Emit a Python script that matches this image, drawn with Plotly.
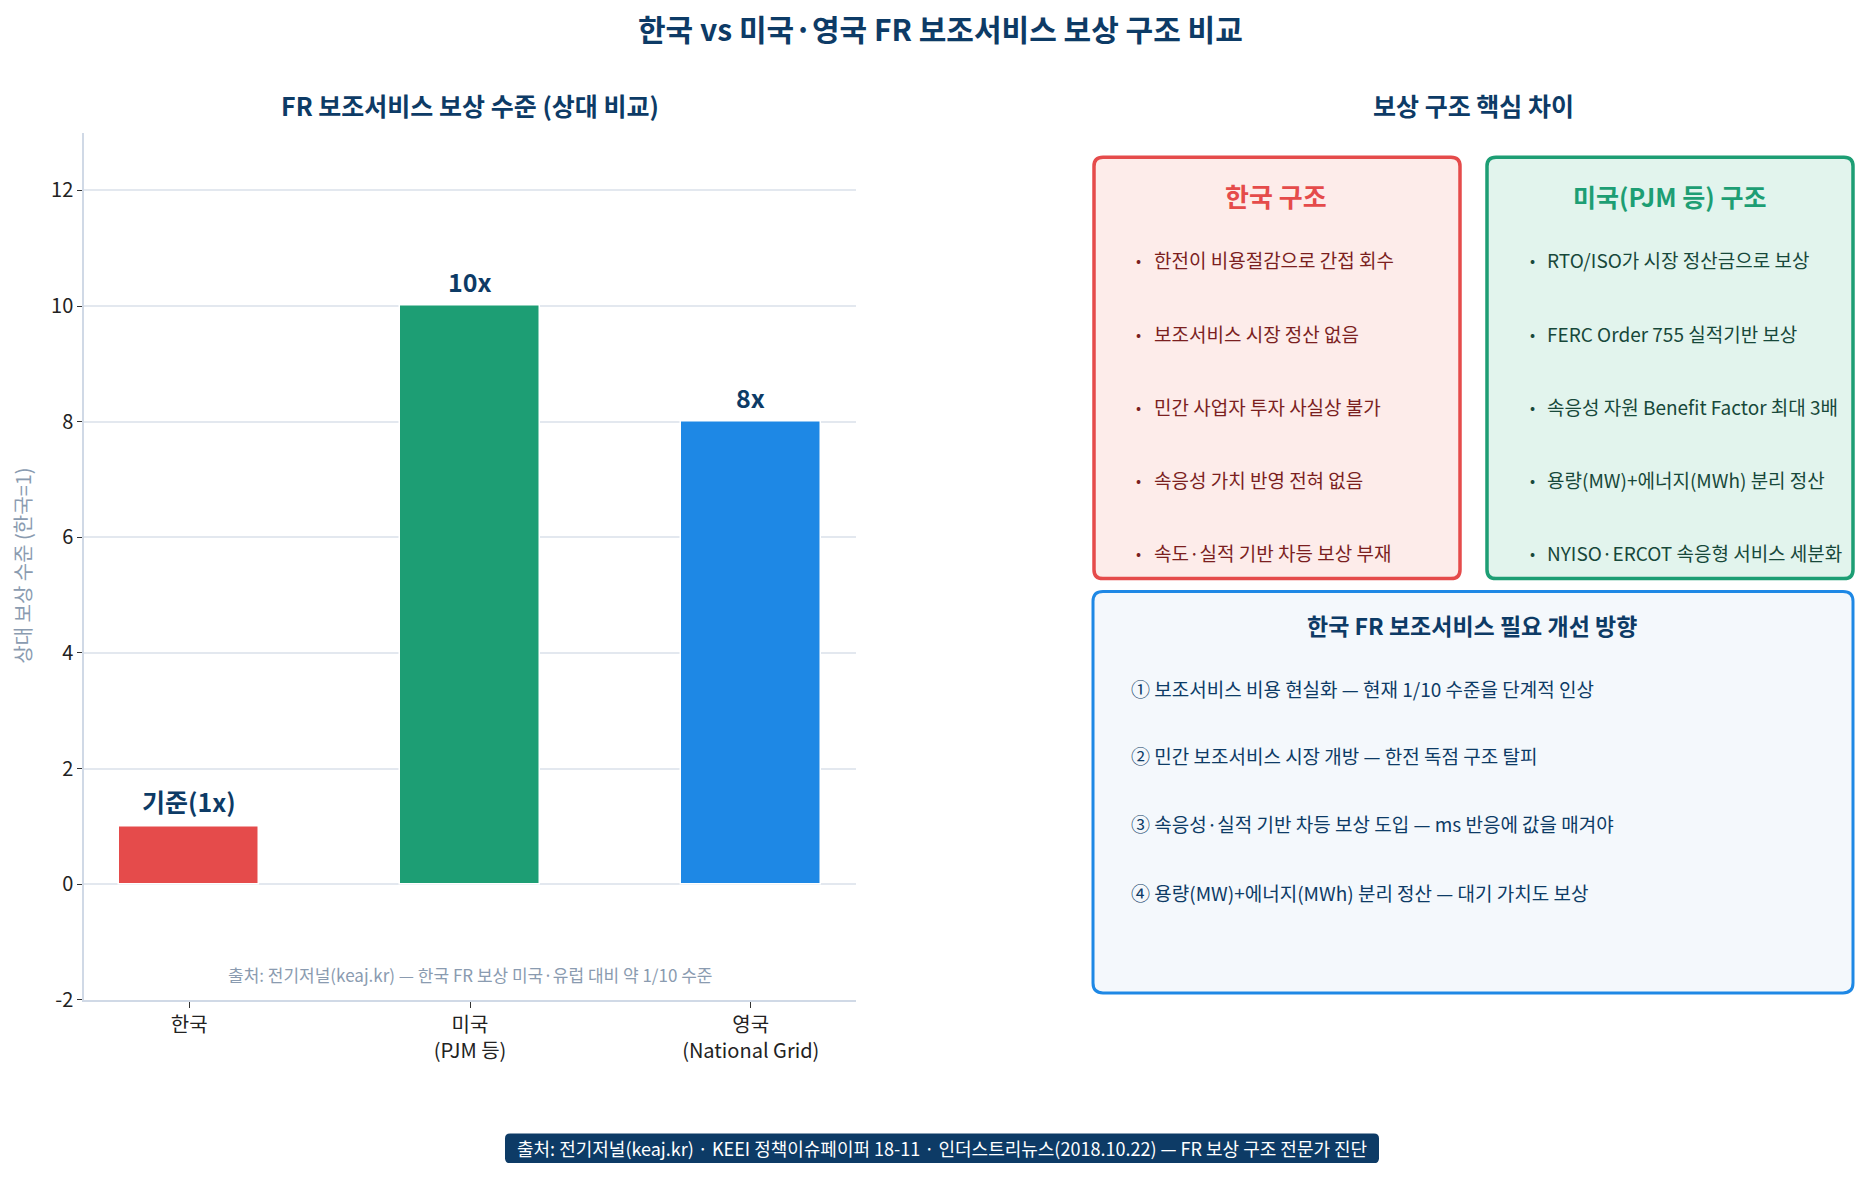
import plotly.graph_objects as go

W, H = 1873, 1185
FONT = "Noto Sans CJK KR"
NAVY = "#0d3b66"

# data
countries = ["한국", "미국<br>(PJM 등)", "영국<br>(National Grid)"]
ratio = [1, 10, 8]
ratio_labels = ["기준(1x)", "10x", "8x"]
bar_colors = ["#e54b4b", "#1d9e74", "#1e88e5"]
y_ticks = [-2, 0, 2, 4, 6, 8, 10, 12]

kr_points = ["한전이 비용절감으로 간접 회수", "보조서비스 시장 정산 없음", "민간 사업자 투자 사실상 불가",
             "속응성 가치 반영 전혀 없음", "속도·실적 기반 차등 보상 부재"]
us_points = ["RTO/ISO가 시장 정산금으로 보상", "FERC Order 755 실적기반 보상", "속응성 자원 Benefit Factor 최대 3배",
             "용량(MW)+에너지(MWh) 분리 정산", "NYISO·ERCOT 속응형 서비스 세분화"]
actions = ["① 보조서비스 비용 현실화 — 현재 1/10 수준을 단계적 인상",
           "② 민간 보조서비스 시장 개방 — 한전 독점 구조 탈피",
           "③ 속응성·실적 기반 차등 보상 도입 — ms 반응에 값을 매겨야",
           "④ 용량(MW)+에너지(MWh) 분리 정산 — 대기 가치도 보상"]


def px_x(x):
    return x / W


def px_y(y):
    return 1 - y / H


def rounded_box(x0, y0, x1, y1, r=9):
    # pixel coords -> paper path with rounded corners
    X = lambda v: f"{px_x(v):.5f}"
    Y = lambda v: f"{px_y(v):.5f}"
    return (f"M{X(x0 + r)},{Y(y0)} L{X(x1 - r)},{Y(y0)} Q{X(x1)},{Y(y0)} {X(x1)},{Y(y0 + r)} "
            f"L{X(x1)},{Y(y1 - r)} Q{X(x1)},{Y(y1)} {X(x1 - r)},{Y(y1)} "
            f"L{X(x0 + r)},{Y(y1)} Q{X(x0)},{Y(y1)} {X(x0)},{Y(y1 - r)} "
            f"L{X(x0)},{Y(y0 + r)} Q{X(x0)},{Y(y0)} {X(x0 + r)},{Y(y0)} Z")


fig = go.Figure()
fig.add_trace(go.Bar(
    x=list(range(len(countries))), y=ratio, width=0.5,
    marker=dict(color=bar_colors, line=dict(color="white", width=1.5)),
    hoverinfo="skip",
))

ann = []
for i, (v, lab) in enumerate(zip(ratio, ratio_labels)):
    ann.append(dict(x=i, y=v, xref="x", yref="y", text=f"<b>{lab}</b>",
                    yanchor="bottom", yshift=5, font=dict(size=25, color=NAVY)))

ann += [
    dict(x=px_x(940), y=px_y(28), text="<b>한국 vs 미국·영국 FR 보조서비스 보상 구조 비교</b>",
         font=dict(size=30, color=NAVY)),
    dict(x=px_x(470), y=px_y(106), text="<b>FR 보조서비스 보상 수준 (상대 비교)</b>",
         font=dict(size=25, color=NAVY)),
    dict(x=px_x(1473), y=px_y(106), text="<b>보상 구조 핵심 차이</b>",
         font=dict(size=25, color=NAVY)),
    dict(x=px_x(470), y=px_y(985), text="출처: 전기저널(keaj.kr) — 한국 FR 보상 미국·유럽 대비 약 1/10 수준",
         font=dict(size=17, color="#8a9bb0")),
    dict(x=px_x(23), y=px_y(572), text="상대 보상 수준 (한국=1)", textangle=-90,
         font=dict(size=20, color="#8a9bb0")),
    dict(x=px_x(942), y=px_y(1161),
         text="출처: 전기저널(keaj.kr) · KEEI 정책이슈페이퍼 18-11 · 인더스트리뉴스(2018.10.22) — FR 보상 구조 전문가 진단",
         font=dict(size=18, color="white")),
    dict(x=px_x(1276), y=px_y(198), text="<b>한국 구조</b>", font=dict(size=26, color="#e54b4b")),
    dict(x=px_x(1669), y=px_y(198), text="<b>미국(PJM 등) 구조</b>", font=dict(size=25, color="#1d9e74")),
    dict(x=px_x(1472), y=px_y(632), text="<b>한국 FR 보조서비스 필요 개선 방향</b>",
         font=dict(size=23, color=NAVY)),
]

bullet_y = [262, 337, 411, 485, 559]
for yy, t in zip(bullet_y, kr_points):
    ann.append(dict(x=px_x(1138), y=px_y(yy), text="•", font=dict(size=15, color="#7b1f1f")))
    ann.append(dict(x=px_x(1152), y=px_y(yy), xanchor="left", text=t,
                    font=dict(size=19, color="#7b1f1f")))
for yy, t in zip(bullet_y, us_points):
    ann.append(dict(x=px_x(1532), y=px_y(yy), text="•", font=dict(size=15, color="#17483a")))
    ann.append(dict(x=px_x(1545), y=px_y(yy), xanchor="left", text=t,
                    font=dict(size=19, color="#17483a")))
for yy, t in zip([696, 764, 833, 902], actions):
    ann.append(dict(x=px_x(1129), y=px_y(yy), xanchor="left", text=t,
                    font=dict(size=19, color=NAVY)))

for a in ann:
    a.setdefault("xref", "paper")
    a.setdefault("yref", "paper")
    a.setdefault("xanchor", "center")
    a.setdefault("yanchor", "middle")
    a.setdefault("showarrow", False)
    a.setdefault("font", {})["family"] = FONT

shapes = [
    dict(type="path", path=rounded_box(1094, 159, 1460, 585), xref="paper", yref="paper",
         fillcolor="#fdecea", line=dict(color="#e54b4b", width=3.5), layer="below"),
    dict(type="path", path=rounded_box(1487, 159, 1853, 585), xref="paper", yref="paper",
         fillcolor="#e2f4ed", line=dict(color="#1d9e74", width=3.5), layer="below"),
    dict(type="path", path=rounded_box(1093, 598, 1853, 1004, r=10), xref="paper", yref="paper",
         fillcolor="#f4f8fc", line=dict(color="#1e88e5", width=3), layer="below"),
    # source footer pill
    dict(type="path", path=rounded_box(505, 1146, 1379, 1176, r=5), xref="paper", yref="paper",
         fillcolor=NAVY, line=dict(width=0), layer="below"),
]

fig.update_layout(
    width=W, height=H, margin=dict(l=0, r=0, t=0, b=0),
    paper_bgcolor="white", plot_bgcolor="white",
    font=dict(family=FONT, size=20, color="#222222"),
    showlegend=False, bargap=0,
    annotations=ann, shapes=shapes,
    xaxis=dict(domain=[px_x(84), px_x(856)], range=[-0.375, 2.375],
               tickvals=list(range(len(countries))), ticktext=countries,
               showline=True, linecolor="#d0d9e6", linewidth=1.5, showgrid=False,
               ticks="outside", ticklen=6, tickcolor="#333333", zeroline=False,
               tickfont=dict(size=20, color="#222222")),
    yaxis=dict(domain=[px_y(1011), px_y(134)], range=[-2, 13],
               tickvals=y_ticks, ticktext=[str(v) for v in y_ticks],
               showline=True, linecolor="#d0d9e6", linewidth=1.5,
               showgrid=True, gridcolor="#e3e8ef", gridwidth=1.5, zeroline=False,
               ticks="outside", ticklen=5, tickcolor="#333333",
               tickfont=dict(size=20, color="#222222")),
)

# drop the default page margin so the figure fills the window exactly
fig.write_html("out.html", config={"displayModeBar": False},
               post_script="document.body.style.margin='0';document.body.style.overflow='hidden';")
